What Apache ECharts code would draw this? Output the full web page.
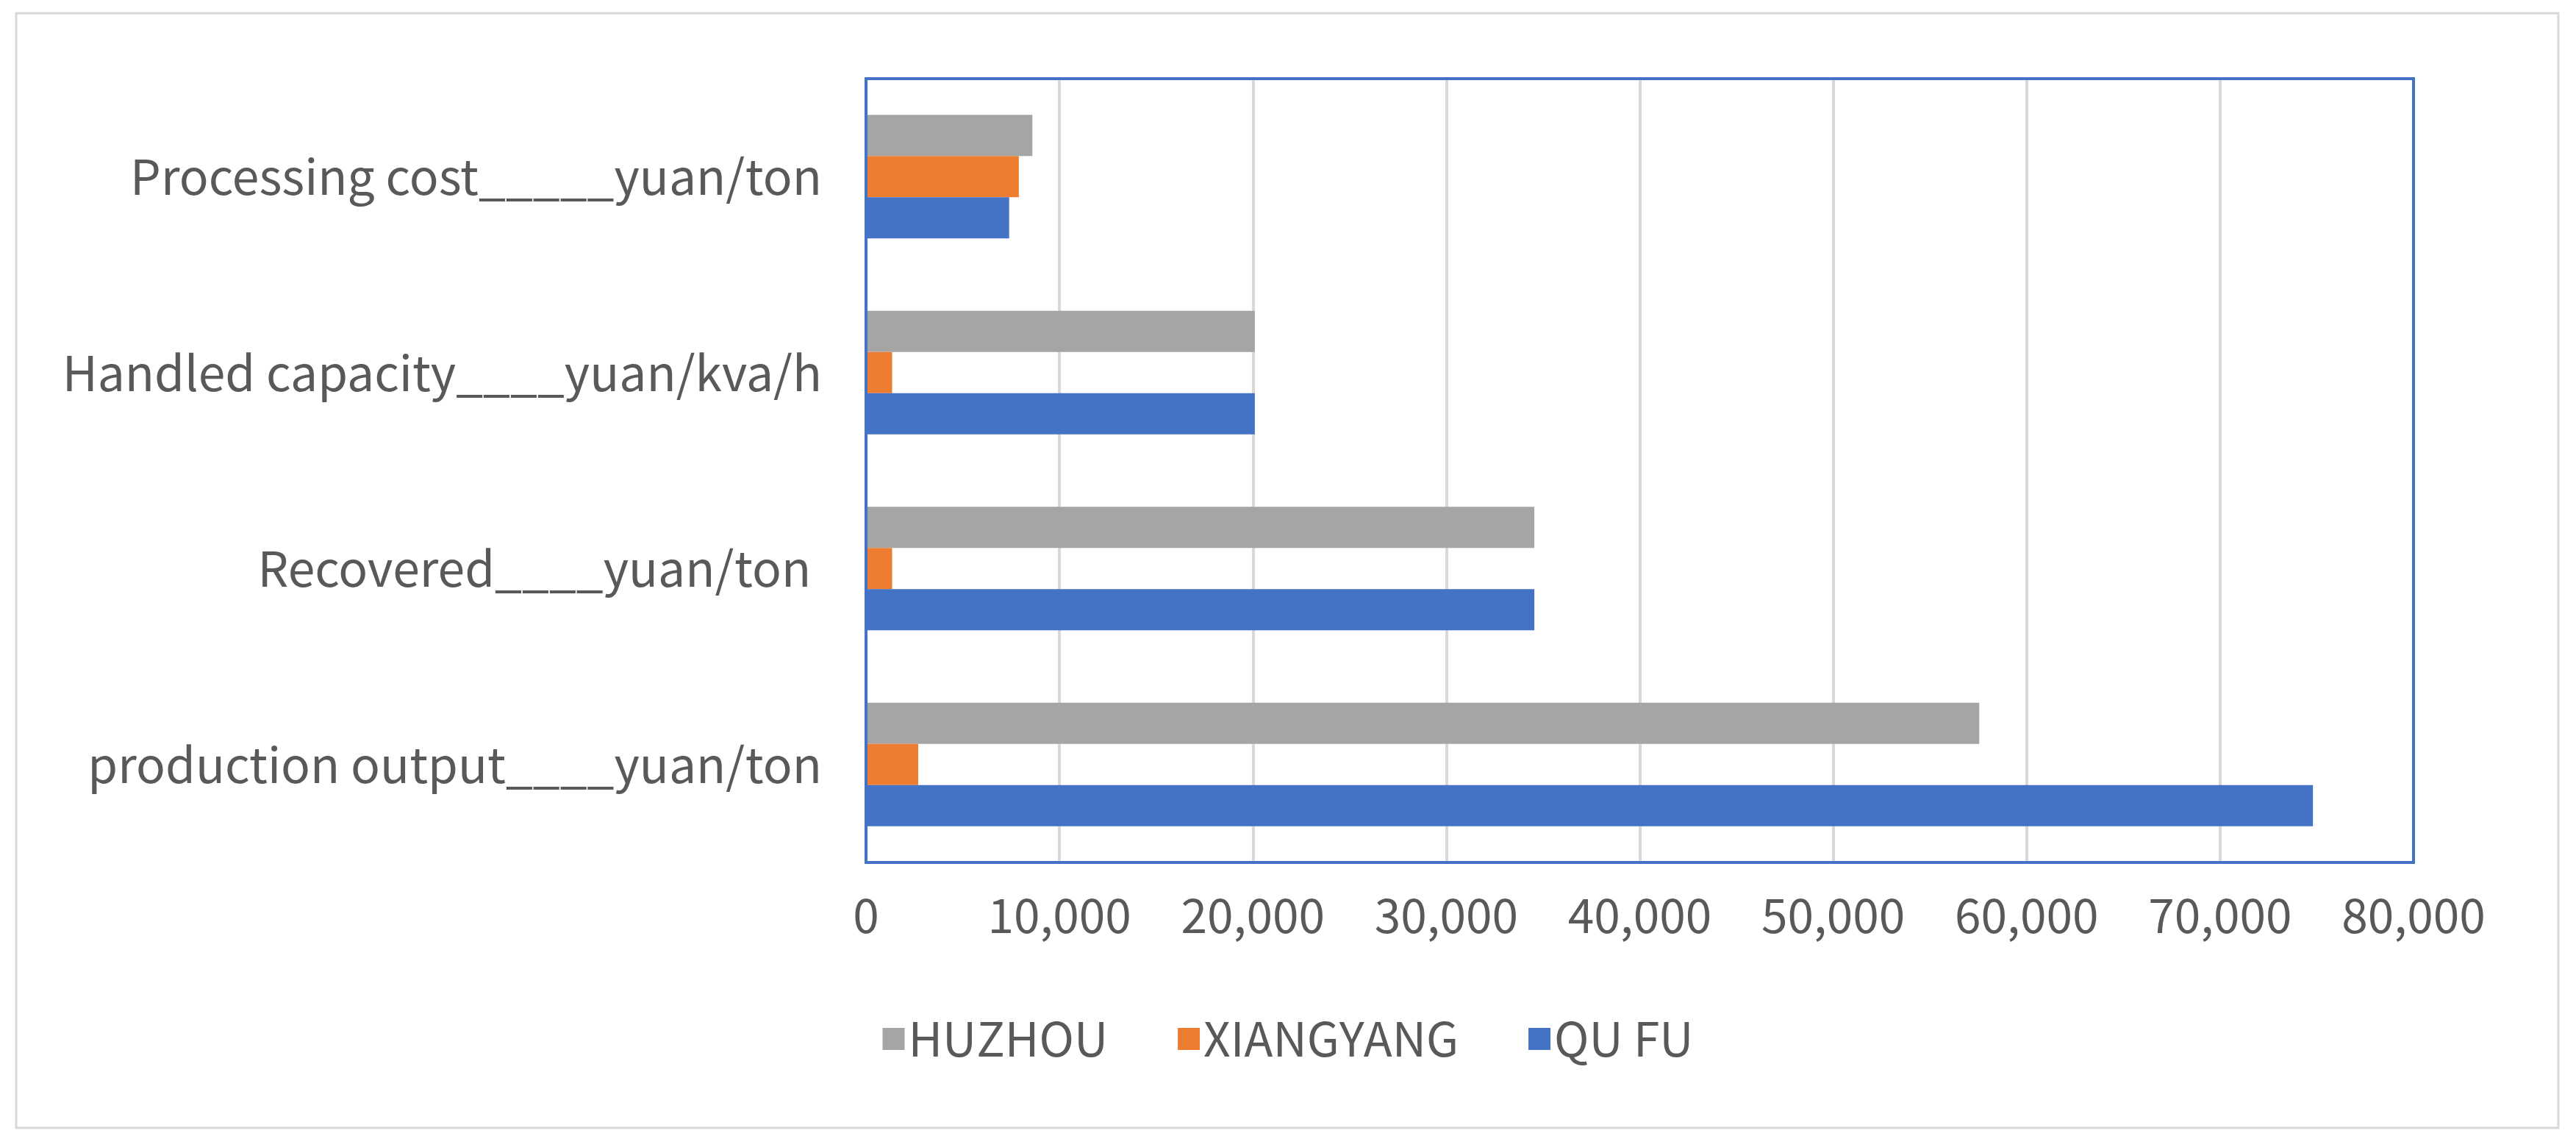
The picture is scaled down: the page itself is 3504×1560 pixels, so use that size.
<!DOCTYPE html>
<html>
<head>
<meta charset="utf-8">
<script src="https://cdn.jsdelivr.net/npm/echarts@6/dist/echarts.min.js"></script>
<style>
html,body{margin:0;padding:0;background:#fff;}
#main{width:3504px;height:1560px;}
</style>
</head>
<body>
<div id="main"></div>
<script>
var categories = ['production output____yuan/ton', 'Recovered____yuan/ton ', 'Handled capacity____yuan/kva/h', 'Processing cost_____yuan/ton'];
var quFu = [74800, 34550, 20100, 7400];
var xiangyang = [2700, 1350, 1350, 7900];
var huzhou = [57550, 34550, 20100, 8600];
var legendOrder = ['HUZHOU', 'XIANGYANG', 'QU FU'];

var textColor = '#595959';
var fontFamily = 'Noto Sans CJK SC';

var chart = echarts.init(document.getElementById('main'));
chart.setOption({
    animation: false,
    textStyle: {fontFamily: fontFamily},
    graphic: [{
        type: 'rect',
        shape: {x: 22, y: 18, width: 3458, height: 1516},
        style: {fill: 'none', stroke: '#d9d9d9', lineWidth: 3}
    }, {
        // 绘图区蓝色边框
        type: 'rect',
        shape: {x: 1178, y: 107, width: 2105, height: 1066},
        style: {fill: 'none', stroke: '#4472C4', lineWidth: 4},
        z: 10
    }],
    legend: {
        data: legendOrder,
        bottom: 110,
        left: 'center',
        itemWidth: 30,
        itemHeight: 30,
        itemGap: 95,
        icon: 'rect',
        textStyle: {fontSize: 64, color: textColor, fontFamily: fontFamily}
    },
    grid: {left: 1178, right: 221, top: 107, bottom: 387},
    xAxis: {
        type: 'value',
        min: 0, max: 80000, interval: 10000,
        axisLabel: {
            fontSize: 64, color: textColor, margin: 40,
            formatter: function (v) { return v.toLocaleString('en-US'); }
        },
        splitLine: {lineStyle: {color: '#d9d9d9', width: 4}},
        axisLine: {show: false},
        axisTick: {show: false}
    },
    yAxis: {
        type: 'category',
        data: categories,
        axisLabel: {fontSize: 66, color: textColor, margin: 60},
        axisLine: {lineStyle: {color: '#d9d9d9', width: 3}},
        axisTick: {show: false}
    },
    series: [
        {name: 'HUZHOU', type: 'bar', data: huzhou, itemStyle: {color: '#A5A5A5'}, barGap: '0%', barCategoryGap: '37%'},
        {name: 'XIANGYANG', type: 'bar', data: xiangyang, itemStyle: {color: '#ED7D31'}},
        {name: 'QU FU', type: 'bar', data: quFu, itemStyle: {color: '#4472C4'}}
    ]
});
</script>
</body>
</html>
